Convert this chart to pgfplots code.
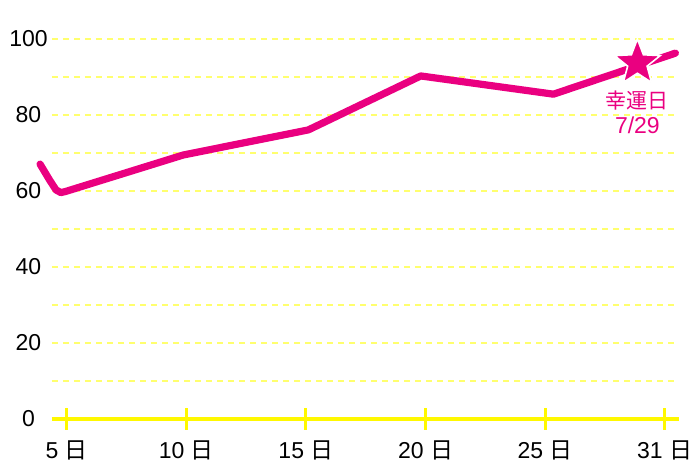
\documentclass[border=0pt]{standalone}
\usepackage{pgfplots}
\pgfplotsset{compat=1.18}
\usepackage{fontspec}
\setmainfont{Liberation Sans}
\newfontfamily\cjk{Noto Sans CJK JP}
\usetikzlibrary{calc,shapes.geometric}
\definecolor{pinkc}{RGB}{234,0,128}
\definecolor{gridy}{RGB}{255,255,110}
\definecolor{axy}{RGB}{255,248,0}
\pgfdeclareplotmark{fstar}{\node[star, star points=5, star point ratio=2.35, fill=pinkc, draw=white, line width=0.8pt, minimum size=24pt, inner sep=0pt] {};}
\begin{document}
\begin{tikzpicture}
\begin{axis}[
  name=ax,
  scale only axis,
  width=313.5pt, height=190pt,
  xmin=4.38, xmax=30.6,
  ymin=0, ymax=100,
  clip=false,
  axis x line*=bottom,
  axis y line*=left,
  x axis line style={axy, line width=2pt, -},
  y axis line style={draw=none},
  xtick={5,10,15,20,25,30},
  xticklabels={5 {\cjk 日},10 {\cjk 日},15 {\cjk 日},20 {\cjk 日},25 {\cjk 日},31 {\cjk 日}},
  xtick style={axy, line width=1.5pt},
  major tick length=11pt,
  tick align=center,
  ytick={0,20,40,60,80},
  minor ytick={10,30,50,70,90},
  extra y ticks={100},
  extra y tick style={grid style={solid, axy, line width=1.5pt}},
  ytick style={draw=none},
  minor tick length=0pt,
  ymajorgrids, yminorgrids,
  major grid style={dash pattern=on 3pt off 2.5pt, gridy, line width=1.2pt},
  minor grid style={dash pattern=on 3pt off 2.5pt, gridy, line width=1.2pt},
  yticklabel style={anchor=center, xshift=-6.25pt, font=\fontsize{11.5}{13}\selectfont},
  xticklabel style={anchor=center, yshift=-10.5pt, font=\fontsize{11.5}{13}\selectfont},
  /pgf/number format/assume math mode=true,
  tick label style={text=black},
]
\addplot[pinkc, line width=3.6pt, line join=round, line cap=round] coordinates {
  (3.88,67.0) (4.3,62.6) (4.55,60.2) (4.75,59.5) (4.95,59.8)
  (9.87,69.4) (15.1,76.0) (19.8,90.2) (25.35,85.4) (30.45,96.2)
};
\addplot[only marks, mark=fstar] coordinates {(28.86,93.6)};
\node[align=center, text=pinkc, font=\fontsize{11.5}{12.5}\selectfont] at (axis cs:28.86,80.6) {{\cjk\fontsize{10.5}{12.5}\selectfont 幸運日}\\7/29};
\end{axis}
\pgfresetboundingbox
\path[use as bounding box] ($(ax.south west)+(-26pt,-24.15pt)$) rectangle ($(ax.north east)+(10.5pt,19.35pt)$);
\end{tikzpicture}
\end{document}
